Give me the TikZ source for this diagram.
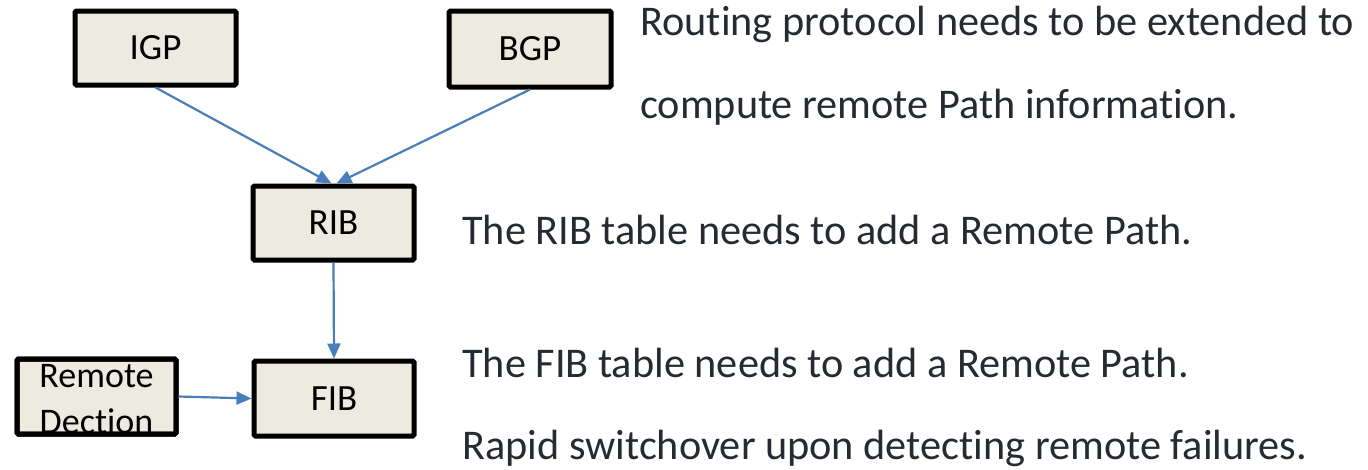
\documentclass[tikz,border=0pt]{standalone}
\usepackage{fontspec}
\setmainfont[Ligatures=NoCommon]{Carlito}
\usetikzlibrary{arrows.meta}
\definecolor{boxfill}{HTML}{EDEAE0}
\definecolor{arrowblue}{HTML}{4A7EBB}
\definecolor{textgrey}{HTML}{262B31}
\tikzset{
  blk/.style={draw=black, line width=5pt, fill=boxfill, rounded corners=1.5pt,
    inner sep=0pt, font=\fontsize{37}{44}\selectfont, text=black},
  blkborder/.style={draw=black, line width=5pt, rounded corners=1.5pt},
  blktext/.style={anchor=base, inner sep=0pt, font=\fontsize{36}{43}\selectfont, text=black},
  conn/.style={draw=arrowblue, line width=2.2pt, -{Triangle[length=15pt,width=13pt]}},
  note/.style={anchor=base west, inner sep=0pt, text=textgrey, font=\fontsize{42.3}{50}\selectfont}
}
\begin{document}
\begin{tikzpicture}[x=1pt,y=-1pt]
\useasboundingbox (0,0) rectangle (1368,469);
\node[blk, minimum width=161pt, minimum height=74pt] (igp) at (155.5,48) {IGP};
\node[blk, minimum width=162pt, minimum height=76pt] (bgp) at (530,49) {BGP};
\node[blk, minimum width=161pt, minimum height=74pt] (rib) at (333.5,223) {RIB};
\node[blk, minimum width=160pt, minimum height=75pt] (fib) at (334,398.5) {FIB};
\node[blk, outer sep=0pt, minimum width=159pt, minimum height=75pt] (rd) at (96.5,396.5) {};
\node[blktext] (rdt1) at (96.5,387) {Remote};
\node[blktext] (rdt2) at (96.5,433) {Dection};
\draw[blkborder] (rd.south west) rectangle (rd.north east);
\coordinate (ribinL) at ([xshift=-2pt]rib.north);
\coordinate (ribinR) at ([xshift=3pt]rib.north);
\draw[conn] (igp.south) -- (ribinL);
\draw[conn] (bgp.south) -- (ribinR);
\draw[conn] (rib.south) -- (fib.north);
\draw[conn] ([xshift=2.5pt]rd.east) -- (fib.west);
\node[note] (t1) at (640,35) {Routing protocol needs to be extended to};
\node[note] (t2) at (640,118) {compute remote Path information.};
\node[note] (t3) at (462,244) {The RIB table needs to add a Remote Path.};
\node[note] (t4) at (462,377) {The FIB table needs to add a Remote Path.};
\node[note] (t5) at (462,459) {Rapid switchover upon detecting remote failures.};
\end{tikzpicture}
\end{document}
